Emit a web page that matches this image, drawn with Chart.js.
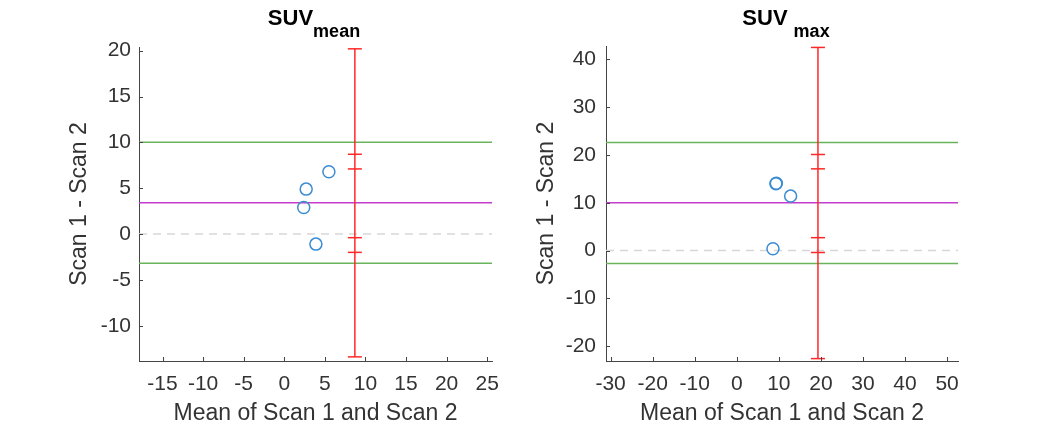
<!DOCTYPE html>
<html>
<head>
<meta charset="utf-8">
<script src="https://cdn.jsdelivr.net/npm/chart.js@4.4.1/dist/chart.umd.min.js"></script>
<style>
body { margin: 0; background: #fff; font-family: "Liberation Sans", Arial, sans-serif; }
#wrap { position: relative; width: 1060px; height: 427px; overflow: hidden; }
canvas { position: absolute; top: 0; }
.ttl { position: absolute; top: 7px; font-weight: bold; font-size: 22px; line-height: 22px; color: #000; white-space: nowrap; transform: translateX(-50%); }
.ttl sub { font-size: 18px; vertical-align: -12px; line-height: 0; }
</style>
</head>
<body>
<div id="wrap">
  <canvas id="chartMean" width="530" height="427" style="left:0"></canvas>
  <canvas id="chartMax" width="530" height="427" style="left:530px"></canvas>
  <div class="ttl" style="left:314px">SUV<sub>mean</sub></div>
  <div class="ttl" style="left:786px">SUV<sub style="margin-left:6px">max</sub></div>
</div>
<script>
// SUV mean panel
const meanAvg = [2.4, 2.7, 5.5, 3.9];
const meanDiff = [2.9, 4.9, 6.8, -1.1];
const meanBias = 3.4;
const meanLimits = [-3.2, 10.0];
const meanBarX = 8.7;
const meanBarEnds = [-13.4, 20.2];
const meanBarCaps = [-2.0, -0.4, 7.1, 8.7];

// SUV max panel
const maxAvg = [9.3, 9.4, 12.8, 8.6];
const maxDiff = [14.0, 14.1, 11.4, 0.4];
const maxBias = 10.0;
const maxLimits = [-2.7, 22.6];
const maxBarX = 19.3;
const maxBarEnds = [-22.6, 42.5];
const maxBarCaps = [-0.4, 2.7, 17.1, 20.1];

const xTitle = 'Mean of Scan 1 and Scan 2';
const yTitle = 'Scan 1 - Scan 2';

const fontFamily = '"Liberation Sans", Arial, sans-serif';
const axisColor = '#444444';
const textColor = '#333333';
const blue = 'rgb(60,140,210)';
const red = 'rgb(255,40,40)';
const green = 'rgb(105,180,90)';
const magenta = 'rgb(195,60,205)';
const zeroGrey = 'rgb(215,215,215)';

// matlab style ticks, pointing into the plot
const innerTicks = {
    id: 'innerTicks',
    afterDraw(chart) {
        const ctx = chart.ctx;
        const x = chart.scales.x, y = chart.scales.y;
        const area = chart.chartArea;
        ctx.save();
        ctx.strokeStyle = axisColor;
        ctx.lineWidth = 1;
        ctx.beginPath();
        x.ticks.forEach(t => {
            const px = Math.round(x.getPixelForValue(t.value)) + 0.5;
            ctx.moveTo(px, area.bottom);
            ctx.lineTo(px, area.bottom - 4);
        });
        y.ticks.forEach(t => {
            const py = Math.round(y.getPixelForValue(t.value)) + 0.5;
            ctx.moveTo(area.left, py);
            ctx.lineTo(area.left + 4, py);
        });
        ctx.stroke();
        ctx.restore();
    }
};

function hLine(v, xr) {
    return [{x: xr[0], y: v}, {x: xr[1], y: v}];
}

function makeChart(id, p) {
    const lineBase = {type: 'line', pointRadius: 0, borderWidth: 1.5, fill: false, tension: 0};
    return new Chart(document.getElementById(id), {
        type: 'scatter',
        data: {
            datasets: [
                Object.assign({}, lineBase, {
                    data: p.barEnds.map(v => ({x: p.barX, y: v})),
                    borderColor: red, order: 0
                }),
                {
                    type: 'scatter',
                    data: p.barEnds.concat(p.barCaps).map(v => ({x: p.barX, y: v})),
                    pointStyle: 'line', pointRadius: 7, borderColor: red, borderWidth: 1.5, order: 0
                },
                {
                    type: 'scatter',
                    data: p.avg.map((v, i) => ({x: v, y: p.diff[i]})),
                    pointStyle: 'circle', pointRadius: 6, borderColor: blue,
                    backgroundColor: 'rgba(0,0,0,0)', borderWidth: 1.5, order: 1
                },
                Object.assign({}, lineBase, {data: hLine(p.bias, p.xRange), borderColor: magenta, order: 2}),
                Object.assign({}, lineBase, {data: hLine(p.limits[0], p.xRange), borderColor: green, order: 3}),
                Object.assign({}, lineBase, {data: hLine(p.limits[1], p.xRange), borderColor: green, order: 3}),
                Object.assign({}, lineBase, {data: hLine(0, p.xRange), borderColor: zeroGrey, borderDash: [8, 6], order: 4})
            ]
        },
        options: {
            responsive: false,
            animation: false,
            layout: {
                padding: {left: p.padLeft, right: p.padRight, top: p.padTop, bottom: 0}
            },
            plugins: {
                legend: {display: false},
                tooltip: {enabled: false}
            },
            scales: {
                x: {
                    type: 'linear',
                    min: p.xRange[0],
                    max: p.xRange[1],
                    afterFit(s) { s.height = 66; },
                    ticks: {
                        stepSize: p.xStep,
                        includeBounds: false,
                        autoSkip: false,
                        maxRotation: 0,
                        padding: 11,
                        color: textColor,
                        font: {family: fontFamily, size: 21}
                    },
                    grid: {display: false, drawTicks: false},
                    border: {display: true, color: axisColor, width: 1},
                    title: {
                        display: true,
                        text: xTitle,
                        color: textColor,
                        padding: 0,
                        font: {family: fontFamily, size: 23}
                    }
                },
                y: {
                    type: 'linear',
                    min: p.yRange[0],
                    max: p.yRange[1],
                    afterFit(s) { s.width = p.yWidth; },
                    ticks: {
                        stepSize: p.yStep,
                        includeBounds: false,
                        padding: p.yPad,
                        color: textColor,
                        font: {family: fontFamily, size: 21}
                    },
                    grid: {display: false, drawTicks: false},
                    border: {display: true, color: axisColor, width: 1},
                    title: {
                        display: true,
                        text: yTitle,
                        color: textColor,
                        padding: 0,
                        font: {family: fontFamily, size: 23}
                    }
                }
            }
        },
        plugins: [innerTicks]
    });
}

makeChart('chartMean', {
    avg: meanAvg, diff: meanDiff, bias: meanBias, limits: meanLimits,
    barX: meanBarX, barEnds: meanBarEnds, barCaps: meanBarCaps,
    xRange: [-17.9, 25.6], yRange: [-13.85, 20.4], xStep: 5, yStep: 5,
    padLeft: 66, padRight: 38, padTop: 47, yWidth: 73, yPad: 8
});

makeChart('chartMax', {
    avg: maxAvg, diff: maxDiff, bias: maxBias, limits: maxLimits,
    barX: maxBarX, barEnds: maxBarEnds, barCaps: maxBarCaps,
    xRange: [-31.1, 52.6], yRange: [-23.1, 42.8], xStep: 10, yStep: 10,
    padLeft: 3, padRight: 102, padTop: 46, yWidth: 73, yPad: 10
});
</script>
</body>
</html>
